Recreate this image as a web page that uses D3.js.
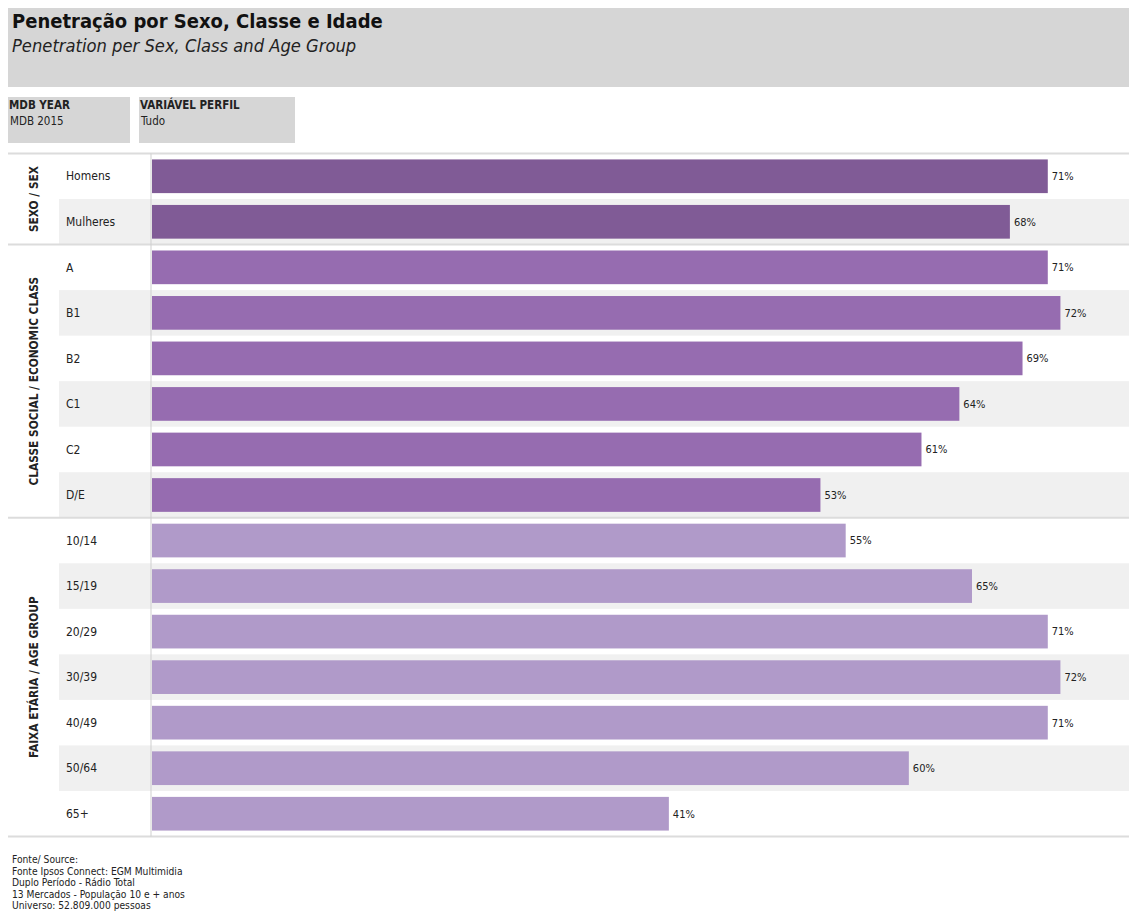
<!DOCTYPE html>
<html>
<head>
<meta charset="utf-8">
<script src="https://cdn.jsdelivr.net/npm/d3@7"></script>
<style>
  html, body { margin: 0; padding: 0; background: #fff; }
  svg { display: block; font-family: "DejaVu Sans Condensed", "DejaVu Sans", Tahoma, sans-serif; font-stretch: condensed; }
</style>
</head>
<body>
<svg id="chart" width="1129" height="914"></svg>
<script>
// Penetration by sex, class and age group (MDB 2015)
const groups = ["SEXO / SEX", "CLASSE SOCIAL / ECONOMIC CLASS", "FAIXA ETÁRIA / AGE GROUP"];
const groupColors = ["#805b96", "#966cb0", "#b09ac9"];

const sexCategories = ["Homens", "Mulheres"];
const sexValues = [71, 68];

const classCategories = ["A", "B1", "B2", "C1", "C2", "D/E"];
const classValues = [71, 72, 69, 64, 61, 53];

const ageCategories = ["10/14", "15/19", "20/29", "30/39", "40/49", "50/64", "65+"];
const ageValues = [55, 65, 71, 72, 71, 60, 41];

const footerLines = [
  "Fonte/ Source:",
  "Fonte Ipsos Connect: EGM Multimidia",
  "Duplo Período - Rádio Total",
  "13 Mercados - População 10 e + anos",
  "Universo: 52.809.000 pessoas"
];

const groupCats = [sexCategories, classCategories, ageCategories];
const groupVals = [sexValues, classValues, ageValues];

const rows = [];
groupCats.forEach((cats, g) => {
  cats.forEach((c, i) => rows.push({ group: g, label: c, value: groupVals[g][i], idx: i }));
});

const W = 1129;
const svg = d3.select("#chart");

// Header box
svg.append("rect").attr("x", 8).attr("y", 8).attr("width", W - 8).attr("height", 79).attr("fill", "#d6d6d6");
svg.append("text").attr("x", 12).attr("y", 28).attr("font-size", 20).attr("font-weight", "bold")
  .attr("fill", "#111").text("Penetração por Sexo, Classe e Idade");
svg.append("text").attr("x", 12).attr("y", 52).attr("font-size", 18.2).attr("font-style", "italic")
  .attr("fill", "#222").text("Penetration per Sex, Class and Age Group");

// Filter boxes
const filters = [
  { x: 8, w: 122, title: "MDB YEAR", value: "MDB 2015" },
  { x: 139, w: 156, title: "VARIÁVEL PERFIL", value: "Tudo" }
];
filters.forEach(f => {
  svg.append("rect").attr("x", f.x).attr("y", 97).attr("width", f.w).attr("height", 46).attr("fill", "#d6d6d6");
  svg.append("text").attr("x", f.x + 1).attr("y", 109).attr("font-size", 11.5).attr("font-weight", "bold")
    .attr("fill", "#222").text(f.title);
  svg.append("text").attr("x", f.x + 2).attr("y", 125).attr("font-size", 11.5)
    .attr("fill", "#222").text(f.value);
});

// Scales
const plotTop = 153.5, plotBottom = 836.5;
const y = d3.scaleBand().domain(d3.range(rows.length)).range([plotTop, plotBottom]).padding(0);
const yBar = d3.scaleBand().domain(d3.range(rows.length)).range([plotTop, plotBottom]).paddingInner(0.26).paddingOuter(0.13);
const x = d3.scaleLinear().domain([0, 77.43]).range([151, W]);

// Alternating row shading
svg.append("g").selectAll("rect").data(rows.filter(r => r.idx % 2 === 1)).join("rect")
  .attr("x", 59).attr("width", W - 59)
  .attr("y", (d) => y(rows.indexOf(d)))
  .attr("height", y.bandwidth())
  .attr("fill", "#f0f0f0");

// Bars
svg.append("g").selectAll("rect").data(rows).join("rect")
  .attr("x", x(0) + 1)
  .attr("y", (d, i) => yBar(i))
  .attr("width", d => x(d.value) - x(0) - 1)
  .attr("height", yBar.bandwidth())
  .attr("fill", d => groupColors[d.group]);

// Value labels
svg.append("g").selectAll("text").data(rows).join("text")
  .attr("x", d => x(d.value) + 4)
  .attr("y", (d, i) => y(i) + y.bandwidth() / 2)
  .attr("dy", "0.35em")
  .attr("font-size", 11)
  .attr("fill", "#222")
  .text(d => d.value + "%");

// Row labels
svg.append("g").selectAll("text").data(rows).join("text")
  .attr("x", 66)
  .attr("y", (d, i) => y(i) + y.bandwidth() / 2)
  .attr("dy", "0.35em")
  .attr("font-size", 12)
  .attr("fill", "#222")
  .text(d => d.label);

// Group separators and group titles
let start = 0;
groupCats.forEach((cats, g) => {
  const y0 = y(start);
  const y1 = y(start + cats.length - 1) + y.bandwidth();
  svg.append("line").attr("x1", 8).attr("x2", W).attr("y1", y0).attr("y2", y0)
    .attr("stroke", "#dcdcdc").attr("stroke-width", 2);
  const cy = (y0 + y1) / 2;
  svg.append("text")
    .attr("transform", `translate(38,${cy}) rotate(-90)`)
    .attr("text-anchor", "middle")
    .attr("font-size", 11.8)
    .attr("font-weight", "bold")
    .attr("fill", "#222")
    .text(groups[g]);
  start += cats.length;
});
svg.append("line").attr("x1", 8).attr("x2", W).attr("y1", plotBottom).attr("y2", plotBottom)
  .attr("stroke", "#dcdcdc").attr("stroke-width", 2);

// Vertical baseline
svg.append("line").attr("x1", 151).attr("x2", 151).attr("y1", plotTop).attr("y2", plotBottom)
  .attr("stroke", "#cfcfcf").attr("stroke-width", 1);

// Footer
svg.append("g").selectAll("text").data(footerLines).join("text")
  .attr("x", 12)
  .attr("y", (d, i) => 863 + i * 11.5)
  .attr("font-size", 10.2)
  .attr("fill", "#222")
  .text(d => d);
</script>
</body>
</html>
